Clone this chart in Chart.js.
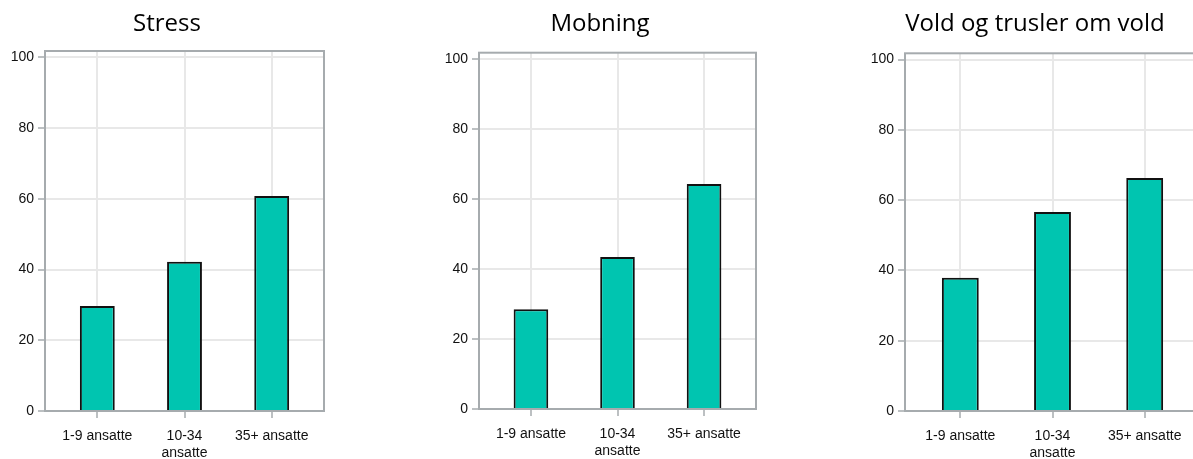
<!DOCTYPE html>
<html>
<head>
<meta charset="utf-8">
<script src="https://cdn.jsdelivr.net/npm/chart.js@4"></script>
<style>
  html, body { margin: 0; padding: 0; background: #fff; overflow: hidden; width: 1193px; height: 459px; }
  canvas { position: absolute; top: 0; }
</style>
</head>
<body>
<canvas id="c1"></canvas>
<canvas id="c2"></canvas>
<canvas id="c3"></canvas>
<script>
// Data
const categories = ['1-9 ansatte', ['10-34', 'ansatte'], '35+ ansatte'];
const xTicks = [0, 1, 2];
const yTicks = [0, 20, 40, 60, 80, 100];
const titles = ['Stress', 'Mobning', 'Vold og trusler om vold'];
const stress = [29.7, 42.2, 60.8];
const mobning = [28.5, 43.4, 64.3];
const vold = [37.9, 56.6, 66.3];
const series = [stress, mobning, vold];

// Couleurs
const BAR = '#00c5b0';
const FRAME = '#a6abae';
const GRID = '#e8e8e8';
const TEXT = '#111';

// Position de chaque panneau
const panels = [
    { id: 'c1', left: 2,   width: 324, padLeft: 8, titleGap: 12.2, xHeight: 48 },
    { id: 'c2', left: 439, width: 319, padLeft: 5, titleGap: 13.9, xHeight: 50 },
    { id: 'c3', left: 863, width: 339, padLeft: 7, titleGap: 14.5, xHeight: 48 }
];

// Cadre gris autour de la zone de tracé
const framePlugin = {
    id: 'frame',
    afterDatasetsDraw(chart) {
        const a = chart.chartArea;
        const ctx = chart.ctx;
        ctx.save();
        ctx.strokeStyle = FRAME;
        ctx.lineWidth = 2;
        ctx.strokeRect(a.left, a.top, a.right - a.left, a.bottom - a.top);
        ctx.restore();
    }
};

function drawPanel(p, i) {
    const canvas = document.getElementById(p.id);
    canvas.width = p.width;
    canvas.height = 459;
    canvas.style.left = p.left + 'px';

    new Chart(canvas, {
        type: 'bar',
        data: {
            datasets: [{
                data: series[i].map((v, k) => ({ x: xTicks[k], y: v })),
                backgroundColor: BAR,
                borderColor: '#111',
                borderWidth: 2,
                barPercentage: 0.4,
                categoryPercentage: 1
            }]
        },
        options: {
            responsive: false,
            animation: false,
            layout: { padding: { left: p.padLeft, right: 2, top: 0, bottom: 0 } },
            plugins: {
                legend: { display: false },
                tooltip: { enabled: false },
                title: {
                    display: true,
                    text: titles[i],
                    color: '#000',
                    font: { family: 'Open Sans', size: 24, weight: 'normal' },
                    padding: { top: 10, bottom: p.titleGap }
                }
            },
            scales: {
                x: {
                    type: 'linear',
                    min: -0.6,
                    max: 2.6,
                    offset: false,
                    afterBuildTicks: s => { s.ticks = xTicks.map(v => ({ value: v })); },
                    afterFit: s => { s.height = p.xHeight; },
                    border: { display: false },
                    grid: { offset: false, color: GRID, lineWidth: 2, tickColor: FRAME, tickLength: 7, tickWidth: 1.5 },
                    ticks: {
                        autoSkip: false,
                        maxRotation: 0,
                        padding: 9,
                        color: TEXT,
                        font: { family: 'Liberation Sans', size: 14, lineHeight: 1.25 },
                        callback: v => categories[v]
                    }
                },
                y: {
                    min: 0,
                    max: 101.8,
                    afterBuildTicks: s => { s.ticks = yTicks.map(v => ({ value: v })); },
                    afterFit: s => { s.width = 35; },
                    border: { display: false },
                    grid: { color: GRID, lineWidth: 2, tickColor: FRAME, tickLength: 7, tickWidth: 1.5 },
                    ticks: {
                        padding: 4,
                        color: TEXT,
                        font: { family: 'Liberation Sans', size: 14 }
                    }
                }
            }
        },
        plugins: [framePlugin]
    });
}

panels.forEach(drawPanel);
</script>
</body>
</html>
